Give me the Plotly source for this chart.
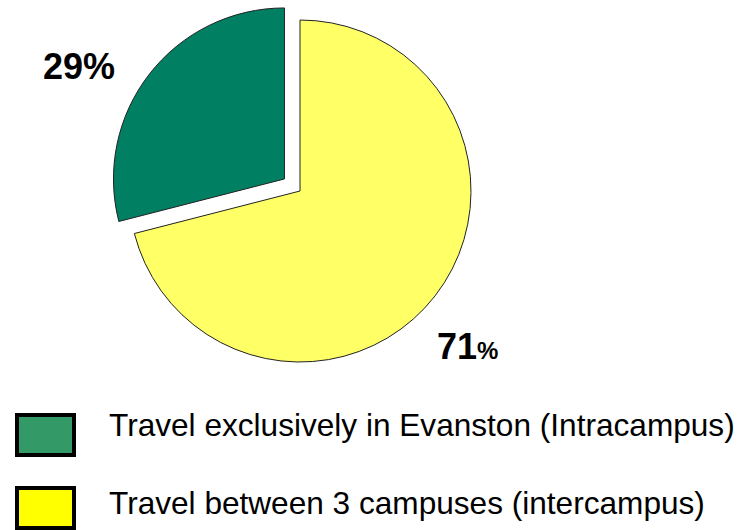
import plotly.graph_objects as go

# Share of trips by travel pattern
categories = ["Travel exclusively in Evanston (Intracampus)",
              "Travel between 3 campuses (intercampus)"]
shares = [29, 71]
slice_colors = ["#007F62", "#FFFF66"]
legend_colors = ["#339966", "#FFFF00"]
slice_pull = [0.115, 0]

W, H = 753, 530


def px_x(x):
    return x / W


def px_y(y):
    return 1 - y / H


FONT = "Liberation Sans, Arial, Helvetica, sans-serif"

# pie sized so the unpulled radius is ~171 px around (300, 191)
r = 171
half = r * (1 + max(slice_pull))
cx, cy = 300, 191

# first slice ends at 12 o'clock, sweeping clockwise from its start
start_angle = -360 * shares[0] / sum(shares)

fig = go.Figure(go.Pie(
    labels=categories,
    values=shares,
    sort=False,
    direction="clockwise",
    rotation=start_angle,
    pull=slice_pull,
    marker=dict(colors=slice_colors, line=dict(color="#222222", width=1)),
    textinfo="none",
    hoverinfo="label+percent",
    showlegend=False,
    domain=dict(x=[px_x(cx - half), px_x(cx + half)],
                y=[px_y(cy + half), px_y(cy - half)]),
))

annotations = []
# percentage labels next to the slices
label_pos = [(79, 67, "center"), (435, 346, "left")]
for i, (v, (lx, ly, anchor)) in enumerate(zip(shares, label_pos)):
    if i == 0:
        txt = f"<b>{v}%</b>"
    else:
        txt = f"<b>{v}<span style='font-size:24px'>%</span></b>"
    annotations.append(dict(
        x=px_x(lx), y=px_y(ly), xref="paper", yref="paper",
        text=txt, showarrow=False, xanchor=anchor, yanchor="middle",
        font=dict(family=FONT, size=36, color="black"),
    ))

# legend: swatches with heavy black borders and labels
shapes = []
rows = [(415, 455, 425), (488, 528, 503)]
for name, col, (y0, y1, ty) in zip(categories, legend_colors, rows):
    shapes.append(dict(
        type="rect", xref="paper", yref="paper",
        x0=px_x(17), x1=px_x(74), y0=px_y(y1), y1=px_y(y0),
        fillcolor=col, line=dict(color="black", width=4),
    ))
    annotations.append(dict(
        x=px_x(107), y=px_y(ty), xref="paper", yref="paper",
        text=name, showarrow=False, xanchor="left", yanchor="middle",
        font=dict(family=FONT, size=31.6, color="black"),
    ))

fig.update_layout(
    width=W, height=H,
    margin=dict(l=0, r=0, t=0, b=0),
    paper_bgcolor="white",
    plot_bgcolor="white",
    shapes=shapes,
    annotations=annotations,
)

fig.write_html("out.html")
